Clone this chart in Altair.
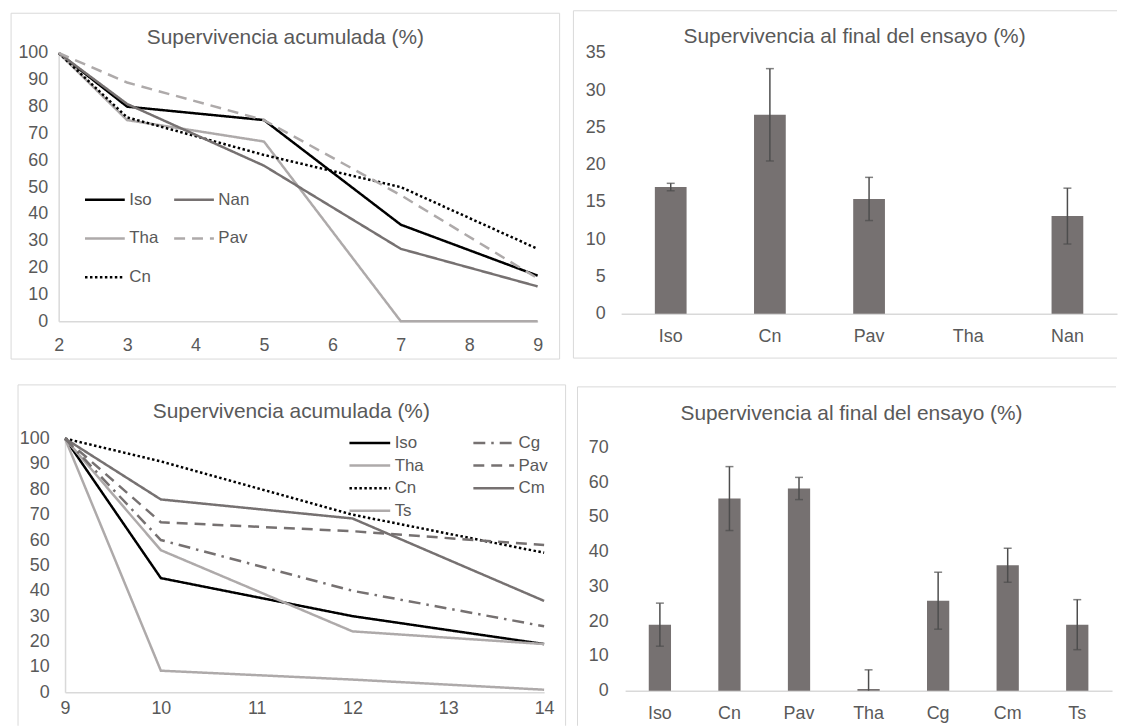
import altair as alt
import pandas as pd

# ---------------- data ----------------
titulo_acum = "Supervivencia acumulada (%)"
titulo_final = "Supervivencia al final del ensayo (%)"

# Panel 1 (arriba, izquierda): supervivencia acumulada
dias_1 = [2, 3, 5, 7, 9]
ticks_x1 = [2, 3, 4, 5, 6, 7, 8, 9]
ticks_y1 = [0, 10, 20, 30, 40, 50, 60, 70, 80, 90, 100]
# legend order (filled column by column): Iso, Tha, Cn | Nan, Pav
series_1 = ["Iso", "Tha", "Cn", "Nan", "Pav"]
iso_1 = [100, 80, 75, 36, 17]
tha_1 = [100, 75, 67, 0, 0]
cn_1 = [100, 76, 62, 50, 27]
nan_1 = [100, 81, 58, 27, 13]
pav_1 = [100, 89, 75, 47, 16]

# Panel 2 (arriba, derecha): supervivencia al final
trat_2 = ["Iso", "Cn", "Pav", "Tha", "Nan"]
media_2 = [17.0, 26.7, 15.4, 0.0, 13.1]
error_2 = [0.5, 6.2, 2.9, 0.0, 3.75]
ticks_y2 = [0, 5, 10, 15, 20, 25, 30, 35]

# Panel 3 (abajo, izquierda): supervivencia acumulada
dias_3 = [9, 10, 12, 14]
ticks_x3 = [9, 10, 11, 12, 13, 14]
ticks_y3 = [0, 10, 20, 30, 40, 50, 60, 70, 80, 90, 100]
# legend order (filled column by column): Iso, Tha, Cn, Ts | Cg, Pav, Cm
series_3 = ["Iso", "Tha", "Cn", "Ts", "Cg", "Pav", "Cm"]
iso_3 = [100, 45, 30, 19]
tha_3 = [100, 56, 24, 19]
cn_3 = [100, 91, 70, 55]
ts_3 = [100, 8.5, 5, 1]
cg_3 = [100, 60, 40, 26]
pav_3 = [100, 67, 63.5, 58]
cm_3 = [100, 76, 68.5, 36]

# Panel 4 (abajo, derecha): supervivencia al final
trat_4 = ["Iso", "Cn", "Pav", "Tha", "Cg", "Cm", "Ts"]
media_4 = [19.0, 55.3, 58.2, 0.5, 25.9, 36.1, 19.0]
error_4 = [6.2, 9.2, 3.2, 5.5, 8.2, 4.9, 7.2]
ticks_y4 = [0, 10, 20, 30, 40, 50, 60, 70]

# ---------------- styles ----------------
FONT = "Liberation Sans"
TXT = "#595959"
BORDE = "#D9D9D9"
BARRA = "#767171"
ERR = "#4D4D4D"
NEGRO, OSCURO, CLARO = "#000000", "#767171", "#AEAAAA"
SOLIDO, GUION, PUNTO, GUION_PUNTO = [1, 0], [11, 7], [2.5, 2.5], [12, 6, 2.5, 6]

colores_1 = [NEGRO, CLARO, NEGRO, OSCURO, CLARO]
trazos_1 = [SOLIDO, SOLIDO, PUNTO, SOLIDO, GUION]
colores_3 = [NEGRO, CLARO, NEGRO, CLARO, OSCURO, OSCURO, OSCURO]
trazos_3 = [SOLIDO, SOLIDO, PUNTO, SOLIDO, GUION_PUNTO, GUION, SOLIDO]


def largo(dias, series, valores):
    filas = []
    for s, vals in zip(series, valores):
        for d, v in zip(dias, vals):
            filas.append({"dia": d, "serie": s, "valor": v})
    return pd.DataFrame(filas)


df_1 = largo(dias_1, series_1, [iso_1, tha_1, cn_1, nan_1, pav_1])
df_3 = largo(dias_3, series_3, [iso_3, tha_3, cn_3, ts_3, cg_3, pav_3, cm_3])


def barras_df(trat, media, error):
    return pd.DataFrame({"trat": trat, "valor": media, "err": error})


df_2 = barras_df(trat_2, media_2, error_2)
df_4 = barras_df(trat_4, media_4, error_4)

uno = pd.DataFrame({"k": [0]})


def marco(cell, bordes, titulo, tx, ty):
    x0, x1, y0, y1 = cell
    capas = [
        alt.Chart(uno).mark_rect(opacity=0).encode(
            x=alt.value(x0), x2=alt.value(x1), y=alt.value(y0), y2=alt.value(y1)
        )
    ]
    for (a, b, c, d) in bordes:
        capas.append(
            alt.Chart(uno).mark_rule(color=BORDE, strokeWidth=1).encode(
                x=alt.value(a), x2=alt.value(b), y=alt.value(c), y2=alt.value(d)
            )
        )
    capas.append(
        alt.Chart(pd.DataFrame({"t": [titulo]})).mark_text(
            font=FONT, fontSize=21, color=TXT, align="center", baseline="middle"
        ).encode(x=alt.value(tx), y=alt.value(ty), text="t:N")
    )
    return capas


def leyenda(x, y, size, row_pad, col_pad):
    return alt.Legend(
        orient="none", legendX=x, legendY=y, columns=2, title=None,
        symbolType="stroke", symbolSize=size, symbolStrokeWidth=2.5,
        labelFont=FONT, labelFontSize=17, labelColor=TXT, labelOffset=3,
        rowPadding=row_pad, columnPadding=col_pad, padding=0, clipHeight=20,
    )


def panel_lineas(df, dom_x, ticks_x, ticks_y, series, colores, trazos, w, h,
                 pad_x, pad_y, leg, cell, bordes, tx, ty, x_inicio=0.0):
    xscale = alt.Scale(domain=dom_x, nice=False, zero=False)
    yaxis = alt.Axis(values=ticks_y, grid=False, ticks=False,
                     labelPadding=pad_y, labelOverlap=False)
    if x_inicio:
        xscale = alt.Scale(domain=dom_x, nice=False, zero=False, range=[x_inicio, w])
        yaxis = alt.Axis(values=ticks_y, grid=False, ticks=False,
                         labelPadding=pad_y, labelOverlap=False, offset=-x_inicio)
    lineas = alt.Chart(df).mark_line(strokeWidth=2.5).encode(
        x=alt.X("dia:Q", title=None, scale=xscale,
                axis=alt.Axis(values=ticks_x, format="d", grid=False, ticks=False,
                              labelPadding=pad_x, labelFlush=False, labelOverlap=False)),
        y=alt.Y("valor:Q", title=None,
                scale=alt.Scale(domain=[ticks_y[0], ticks_y[-1]], nice=False),
                axis=yaxis),
        color=alt.Color("serie:N", scale=alt.Scale(domain=series, range=colores), legend=leg),
        strokeDash=alt.StrokeDash("serie:N", scale=alt.Scale(domain=series, range=trazos), legend=leg),
    )
    return alt.layer(*marco(cell, bordes, titulo_acum, tx, ty), lineas).properties(width=w, height=h)


def panel_barras(df, trat, ticks_y, w, h, pad_x, pad_y, cell, bordes, tx, ty):
    xaxis = alt.Axis(grid=False, ticks=False, labelPadding=pad_x, labelAngle=0)
    yaxis = alt.Axis(values=ticks_y, grid=False, ticks=False, domain=False,
                     labelPadding=pad_y, labelOverlap=False)
    xscale = alt.Scale(domain=trat, paddingInner=0.68, paddingOuter=0.34)
    yscale = alt.Scale(domain=[ticks_y[0], ticks_y[-1]], nice=False)
    barras = alt.Chart(df).mark_bar(color=BARRA).encode(
        x=alt.X("trat:N", title=None, sort=trat, scale=xscale, axis=xaxis),
        y=alt.Y("valor:Q", title=None, scale=yscale, axis=yaxis),
    )
    base_err = alt.Chart(df).transform_filter("datum.err > 0").transform_calculate(
        alto="datum.valor + datum.err", bajo="max(0, datum.valor - datum.err)"
    )
    xe = alt.X("trat:N", title=None, sort=trat, scale=xscale, axis=xaxis)
    regla = base_err.mark_rule(color=ERR, strokeWidth=1.5).encode(
        x=xe, y=alt.Y("bajo:Q", title=None, scale=yscale, axis=yaxis), y2="alto:Q"
    )
    tapa_alta = base_err.mark_tick(color=ERR, size=8, thickness=1.5).encode(
        x=xe, y=alt.Y("alto:Q", title=None, scale=yscale, axis=yaxis)
    )
    tapa_baja = base_err.transform_filter("datum.valor - datum.err > 0").mark_tick(
        color=ERR, size=8, thickness=1.5
    ).encode(x=xe, y=alt.Y("bajo:Q", title=None, scale=yscale, axis=yaxis))
    return alt.layer(*marco(cell, bordes, titulo_final, tx, ty), barras, regla, tapa_alta, tapa_baja).properties(
        width=w, height=h
    )


# ---- panel geometry (pixels relative to each plot area) ----
p1 = panel_lineas(
    df_1, [2, 9], ticks_x1, ticks_y1, series_1, colores_1, trazos_1, 482, 270,
    15, 11, leyenda(25, 137.7, 1600, 19, 13.7),
    (-47.9, 504.1, -43, 308),
    [(-47.9, 504.1, -40, -40), (-47.9, 504.1, 308, 308),
     (-47.9, -47.9, -40, 308), (504.1, 504.1, -40, 308)],
    228.1, -15,
)
p2 = panel_barras(
    df_2, trat_2, ticks_y2, 499, 262.3, 14.4, 16,
    (-48, 499, -43, 308),
    [(-48, 499, -42.5, -42.5), (-48, 499, 307, 307), (-48, -48, -42.5, 307)],
    234.9, -16,
)
p3 = panel_lineas(
    df_3, [9, 14], ticks_x3, ticks_y3, series_3, colores_3, trazos_3, 488.5, 255.3,
    7.7, 16, leyenda(291.1, -5.5, 1681, 2.7, 47.7),
    (-47.9, 510.1, -67, 289),
    [(-40.9, 510.1, -54, -54), (-40.9, -40.9, -54, 289), (510.1, 510.1, -54, 289)],
    234.1, -26.3, x_inicio=6.4,
)
p4 = panel_barras(
    df_4, trat_4, ticks_y4, 490, 244.7, 14.3, 17,
    (-53, 494, -76, 280),
    [(-47.9, 494, -61, -61), (-47.9, -47.9, -61, 280)],
    227.8, -34,
)

ind = dict(x="independent", y="independent", color="independent", strokeDash="independent")

chart = (
    alt.concat(p1, p2, p3, p4, columns=2, spacing={"column": 6, "row": 12},
               align="none", bounds="full")
    .resolve_scale(**ind)
    .properties(padding={"left": 2, "top": 0, "right": 0, "bottom": 0}, background="white")
    .configure_view(stroke=None)
    .configure_axis(labelFont=FONT, labelFontSize=18, labelColor=TXT,
                    domainColor=BORDE, domainWidth=1.5)
)

chart.save("out.html", embed_options={"renderer": "svg", "actions": False})
